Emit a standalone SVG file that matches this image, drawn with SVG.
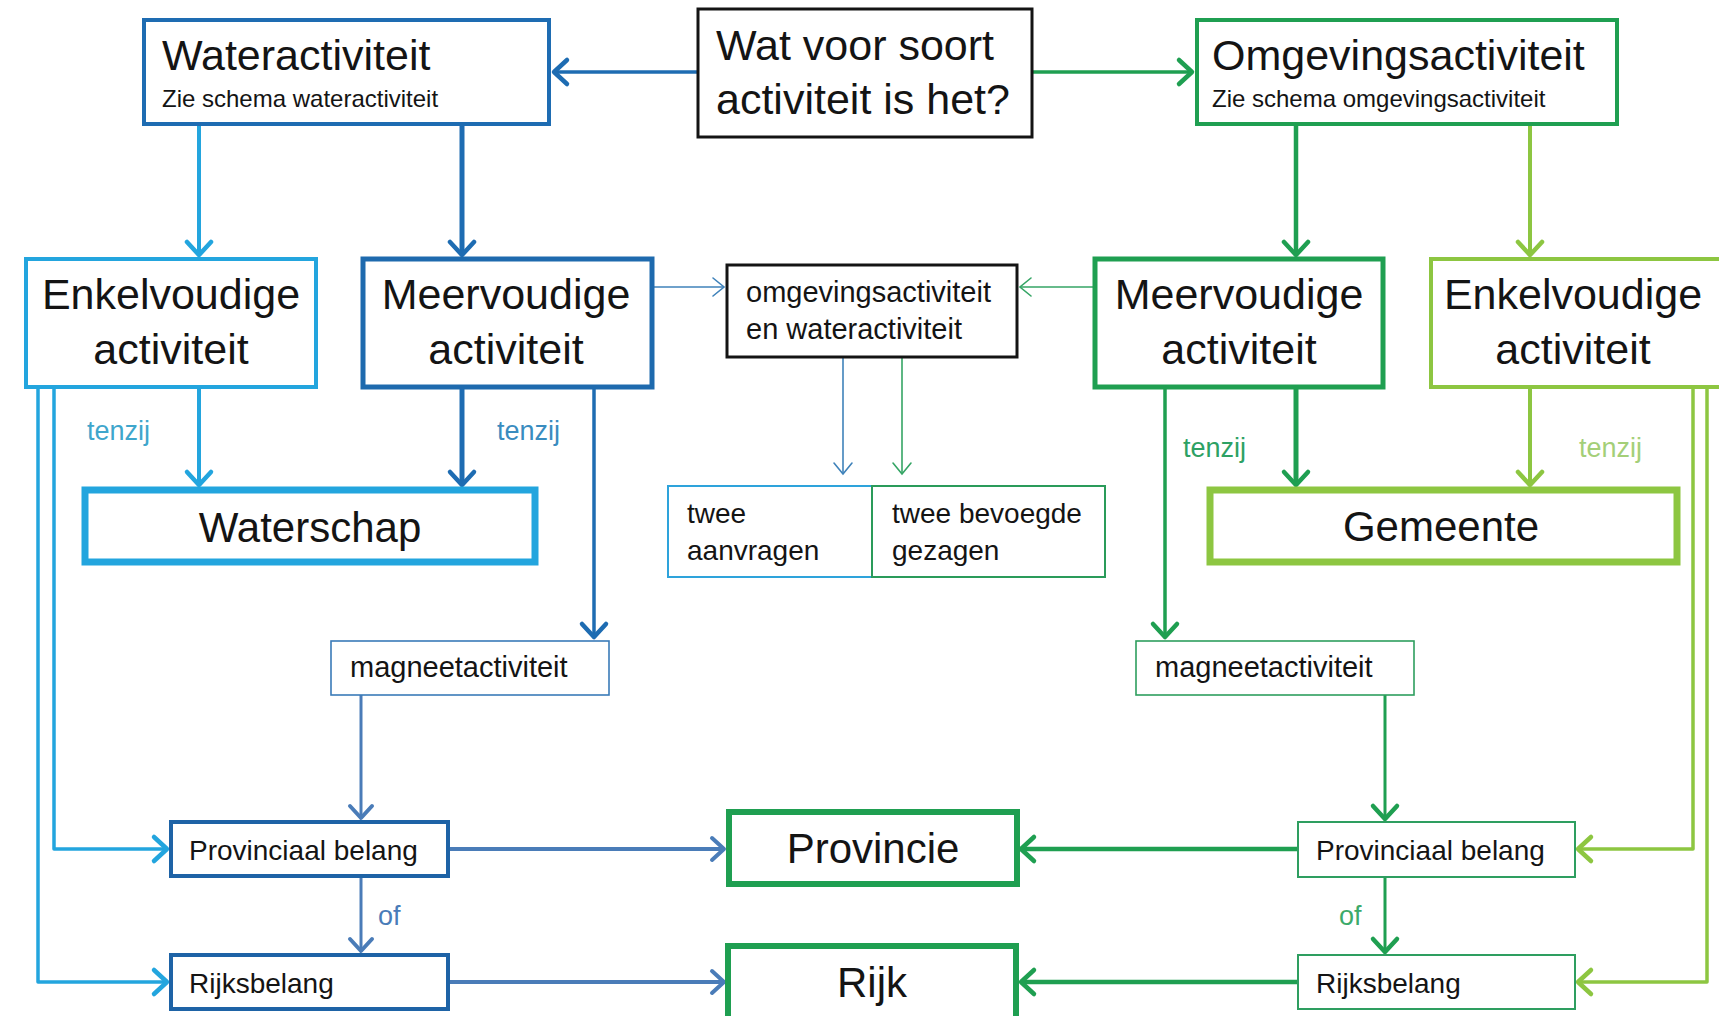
<svg xmlns="http://www.w3.org/2000/svg" width="1719" height="1016" viewBox="0 0 1719 1016">
<defs>
<style>
text{font-family:"Liberation Sans",Arial,sans-serif;fill:#141414}
.big{font-size:43px}
.mid{font-size:42px}
.sub{font-size:24px}
.sm{font-size:29px}
.lbl{font-size:27px}
.box{fill:#fff}
.c{fill:none;stroke-linejoin:round}
</style>
<marker id="aDark" markerUnits="userSpaceOnUse" orient="auto" overflow="visible" markerWidth="30" markerHeight="30"><path d="M-13,-12 L0,0 L-13,12" fill="none" stroke="#1E6CB2" stroke-width="4.5" stroke-linecap="round" stroke-linejoin="round"/></marker>
<marker id="aLight" markerUnits="userSpaceOnUse" orient="auto" overflow="visible" markerWidth="30" markerHeight="30"><path d="M-13,-12 L0,0 L-13,12" fill="none" stroke="#23A5DE" stroke-width="4.5" stroke-linecap="round" stroke-linejoin="round"/></marker>
<marker id="aSteel" markerUnits="userSpaceOnUse" orient="auto" overflow="visible" markerWidth="30" markerHeight="30"><path d="M-12,-11 L0,0 L-12,11" fill="none" stroke="#4A7CB8" stroke-width="4" stroke-linecap="round" stroke-linejoin="round"/></marker>
<marker id="aGreen" markerUnits="userSpaceOnUse" orient="auto" overflow="visible" markerWidth="30" markerHeight="30"><path d="M-13,-12 L0,0 L-13,12" fill="none" stroke="#1F9F51" stroke-width="4.5" stroke-linecap="round" stroke-linejoin="round"/></marker>
<marker id="aLgreen" markerUnits="userSpaceOnUse" orient="auto" overflow="visible" markerWidth="30" markerHeight="30"><path d="M-13,-12 L0,0 L-13,12" fill="none" stroke="#8DC641" stroke-width="4.5" stroke-linecap="round" stroke-linejoin="round"/></marker>
<marker id="aThinBlue" markerUnits="userSpaceOnUse" orient="auto" overflow="visible" markerWidth="30" markerHeight="30"><path d="M-11,-9 L0,0 L-11,9" fill="none" stroke="#3F82BA" stroke-width="1.6" stroke-linecap="round"/></marker>
<marker id="aThinGreen" markerUnits="userSpaceOnUse" orient="auto" overflow="visible" markerWidth="30" markerHeight="30"><path d="M-11,-9 L0,0 L-11,9" fill="none" stroke="#35A565" stroke-width="1.6" stroke-linecap="round"/></marker>
</defs>
<rect x="0" y="0" width="1719" height="1016" fill="#ffffff"/>

<g id="connectors">
<path class="c" d="M697,72 L554,72" stroke="#1E6CB2" stroke-width="3.5" marker-end="url(#aDark)"/>
<path class="c" d="M1033,72 L1192,72" stroke="#1F9F51" stroke-width="3.5" marker-end="url(#aGreen)"/>
<path class="c" d="M199,126 L199,255" stroke="#23A5DE" stroke-width="4" marker-end="url(#aLight)"/>
<path class="c" d="M462,126 L462,255" stroke="#1E6CB2" stroke-width="5" marker-end="url(#aDark)"/>
<path class="c" d="M1296,126 L1296,255" stroke="#1F9F51" stroke-width="4.5" marker-end="url(#aGreen)"/>
<path class="c" d="M1530,126 L1530,255" stroke="#8DC641" stroke-width="4" marker-end="url(#aLgreen)"/>
<path class="c" d="M654,287 L724,287" stroke="#3F82BA" stroke-width="1.6" marker-end="url(#aThinBlue)"/>
<path class="c" d="M1093,287 L1020,287" stroke="#35A565" stroke-width="1.6" marker-end="url(#aThinGreen)"/>
<path class="c" d="M843,358 L843,474" stroke="#3F82BA" stroke-width="1.6" marker-end="url(#aThinBlue)"/>
<path class="c" d="M902,358 L902,474" stroke="#35A565" stroke-width="1.6" marker-end="url(#aThinGreen)"/>
<path class="c" d="M199,389 L199,485" stroke="#23A5DE" stroke-width="4" marker-end="url(#aLight)"/>
<path class="c" d="M462,389 L462,485" stroke="#1E6CB2" stroke-width="5" marker-end="url(#aDark)"/>
<path class="c" d="M594,389 L594,637" stroke="#1E6CB2" stroke-width="3.5" marker-end="url(#aDark)"/>
<path class="c" d="M1296,389 L1296,485" stroke="#1F9F51" stroke-width="5" marker-end="url(#aGreen)"/>
<path class="c" d="M1530,389 L1530,485" stroke="#8DC641" stroke-width="4" marker-end="url(#aLgreen)"/>
<path class="c" d="M1165,389 L1165,637" stroke="#1F9F51" stroke-width="3.5" marker-end="url(#aGreen)"/>
<path class="c" d="M54,389 L54,849 L167,849" stroke="#23A5DE" stroke-width="3.5" marker-end="url(#aLight)"/>
<path class="c" d="M38,389 L38,982 L167,982" stroke="#23A5DE" stroke-width="3.5" marker-end="url(#aLight)"/>
<path class="c" d="M361,695 L361,818" stroke="#4A7CB8" stroke-width="3" marker-end="url(#aSteel)"/>
<path class="c" d="M361,878 L361,951" stroke="#4A7CB8" stroke-width="3" marker-end="url(#aSteel)"/>
<path class="c" d="M450,849 L724,849" stroke="#4A7CB8" stroke-width="4" marker-end="url(#aSteel)"/>
<path class="c" d="M450,982 L724,982" stroke="#4A7CB8" stroke-width="4" marker-end="url(#aSteel)"/>
<path class="c" d="M1693,389 L1693,849 L1578,849" stroke="#8DC641" stroke-width="3.5" marker-end="url(#aLgreen)"/>
<path class="c" d="M1707,389 L1707,982 L1578,982" stroke="#8DC641" stroke-width="3.5" marker-end="url(#aLgreen)"/>
<path class="c" d="M1385,695 L1385,819" stroke="#1F9F51" stroke-width="3" marker-end="url(#aGreen)"/>
<path class="c" d="M1385,877 L1385,952" stroke="#1F9F51" stroke-width="3" marker-end="url(#aGreen)"/>
<path class="c" d="M1297,849 L1021,849" stroke="#1F9F51" stroke-width="4.5" marker-end="url(#aGreen)"/>
<path class="c" d="M1297,982 L1021,982" stroke="#1F9F51" stroke-width="4.5" marker-end="url(#aGreen)"/>
<text class="lbl" x="87" y="440" style="fill:#3FA6CC">tenzij</text>
<text class="lbl" x="497" y="440" style="fill:#3A8CBF">tenzij</text>
<text class="lbl" x="1183" y="457" style="fill:#2DA164">tenzij</text>
<text class="lbl" x="1579" y="457" style="fill:#A4CF78">tenzij</text>
<text class="lbl" x="378" y="925" style="fill:#4A7CB8">of</text>
<text class="lbl" x="1339" y="925" style="fill:#3DAA6A">of</text>
</g>

<g id="node-wateractiviteit">
<rect class="box" x="144" y="20" width="405" height="104" stroke="#1E6CB2" stroke-width="4"/>
<text class="big" x="162" y="70">Wateractiviteit</text>
<text class="sub" x="162" y="107">Zie schema wateractiviteit</text>
</g>
<g id="node-vraag">
<rect class="box" x="698" y="9" width="334" height="128" stroke="#141414" stroke-width="3"/>
<text class="big" x="716" y="60">Wat voor soort</text>
<text class="big" x="716" y="114">activiteit is het?</text>
</g>
<g id="node-omgevingsactiviteit">
<rect class="box" x="1197" y="20" width="420" height="104" stroke="#1F9F51" stroke-width="4"/>
<text class="big" x="1212" y="70">Omgevingsactiviteit</text>
<text class="sub" x="1212" y="107">Zie schema omgevingsactiviteit</text>
</g>
<g id="node-enkelvoudig-water">
<rect class="box" x="26" y="259" width="290" height="128" stroke="#23A5DE" stroke-width="4"/>
<text class="big" x="171" y="309" text-anchor="middle">Enkelvoudige</text>
<text class="big" x="171" y="364" text-anchor="middle">activiteit</text>
</g>
<g id="node-meervoudig-water">
<rect class="box" x="363" y="259" width="289" height="128" stroke="#1E6AAE" stroke-width="5"/>
<text class="big" x="506" y="309" text-anchor="middle">Meervoudige</text>
<text class="big" x="506" y="364" text-anchor="middle">activiteit</text>
</g>
<g id="node-omgeving-en-water">
<rect class="box" x="727" y="265" width="290" height="92" stroke="#141414" stroke-width="3"/>
<text class="sm" x="746" y="302">omgevingsactiviteit</text>
<text class="sm" x="746" y="339">en wateractiviteit</text>
</g>
<g id="node-twee">
<rect class="box" x="668" y="486" width="204" height="91" stroke="#2EA3DB" stroke-width="2"/>
<rect class="box" x="872" y="486" width="233" height="91" stroke="#2A9B5A" stroke-width="2"/>
<text class="sm" x="687" y="523" style="font-size:28px">twee</text>
<text class="sm" x="687" y="560" style="font-size:28px">aanvragen</text>
<text class="sm" x="892" y="523" style="font-size:28px">twee bevoegde</text>
<text class="sm" x="892" y="560" style="font-size:28px">gezagen</text>
</g>
<g id="node-meervoudig-omgeving">
<rect class="box" x="1095" y="259" width="288" height="128" stroke="#1F9F51" stroke-width="5"/>
<text class="big" x="1239" y="309" text-anchor="middle">Meervoudige</text>
<text class="big" x="1239" y="364" text-anchor="middle">activiteit</text>
</g>
<g id="node-enkelvoudig-omgeving">
<rect class="box" x="1431" y="259" width="292" height="128" stroke="#8DC641" stroke-width="4"/>
<text class="big" x="1573" y="309" text-anchor="middle">Enkelvoudige</text>
<text class="big" x="1573" y="364" text-anchor="middle">activiteit</text>
</g>
<g id="node-waterschap">
<rect class="box" x="85" y="490" width="450" height="72" stroke="#23A5DE" stroke-width="7"/>
<text class="mid" x="310" y="542" text-anchor="middle">Waterschap</text>
</g>
<g id="node-gemeente">
<rect class="box" x="1210" y="490" width="467" height="72" stroke="#8DC641" stroke-width="7"/>
<text class="mid" x="1441" y="541" text-anchor="middle">Gemeente</text>
</g>
<g id="node-magneet-water">
<rect class="box" x="331" y="641" width="278" height="54" stroke="#3A7BB8" stroke-width="1.6"/>
<text class="sm" x="350" y="677">magneetactiviteit</text>
</g>
<g id="node-magneet-omgeving">
<rect class="box" x="1136" y="641" width="278" height="54" stroke="#2E9E5E" stroke-width="1.6"/>
<text class="sm" x="1155" y="677">magneetactiviteit</text>
</g>
<g id="node-provinciaal-water">
<rect class="box" x="171" y="822" width="277" height="54" stroke="#1E63A6" stroke-width="4"/>
<text class="sm" x="189" y="860" style="font-size:28px">Provinciaal belang</text>
</g>
<g id="node-rijks-water">
<rect class="box" x="171" y="955" width="277" height="54" stroke="#1E63A6" stroke-width="4"/>
<text class="sm" x="189" y="993" style="font-size:28px">Rijksbelang</text>
</g>
<g id="node-provincie">
<rect class="box" x="729" y="812" width="288" height="72" stroke="#1F9F51" stroke-width="6"/>
<text class="mid" x="873" y="863" text-anchor="middle">Provincie</text>
</g>
<g id="node-rijk">
<rect class="box" x="728" y="946" width="288" height="80" stroke="#1F9F51" stroke-width="6"/>
<text class="mid" x="872" y="997" text-anchor="middle">Rijk</text>
</g>
<g id="node-provinciaal-omgeving">
<rect class="box" x="1298" y="822" width="277" height="55" stroke="#2E9E60" stroke-width="2"/>
<text class="sm" x="1316" y="860" style="font-size:28px">Provinciaal belang</text>
</g>
<g id="node-rijks-omgeving">
<rect class="box" x="1298" y="955" width="277" height="54" stroke="#2E9E60" stroke-width="2"/>
<text class="sm" x="1316" y="993" style="font-size:28px">Rijksbelang</text>
</g>
</svg>
